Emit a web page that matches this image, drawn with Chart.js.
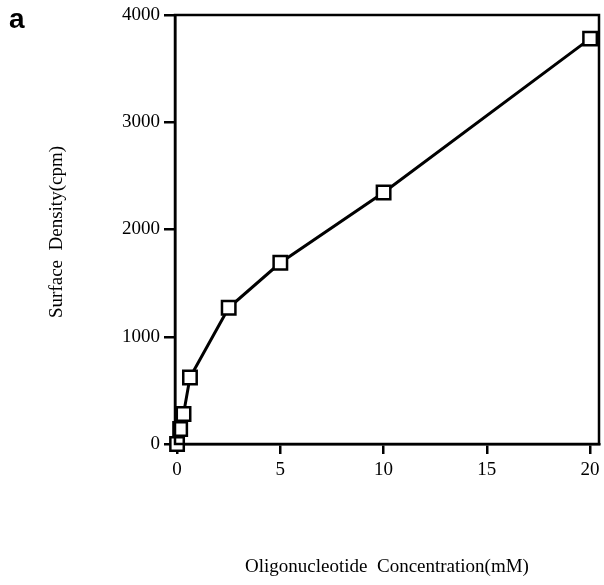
<!DOCTYPE html>
<html>
<head>
<meta charset="utf-8">
<script src="https://cdn.jsdelivr.net/npm/chart.js@4"></script>
<style>
html,body{margin:0;padding:0;background:#fff;}
#wrap{position:relative;width:604px;height:585px;}
</style>
</head>
<body>
<div id="wrap"><canvas id="c" width="604" height="585"></canvas></div>
<script>
const concentrations = [0, 0.15, 0.3125, 0.625, 2.5, 5, 10, 20];
const surfaceDensity = [0, 140, 280, 620, 1270, 1690, 2345, 3780];
const xTicks = [0, 5, 10, 15, 20];
const yTicks = [0, 1000, 2000, 3000, 4000];
const xTitle = 'Oligonucleotide  Concentration(mM)';
const yTitle = 'Surface  Density(cpm)';
const panelLabel = 'a';

const SERIF = '"Liberation Serif", "Times New Roman", serif';

const decor = {
  id: 'decor',
  afterDraw(chart) {
    const ctx = chart.ctx;
    const a = chart.chartArea;
    ctx.save();
    ctx.strokeStyle = '#000';
    ctx.lineWidth = 2.5;
    ctx.strokeRect(a.left, a.top, a.right - a.left, a.bottom - a.top);
    ctx.fillStyle = '#000';
    ctx.font = '19px ' + SERIF;
    ctx.textAlign = 'center';
    ctx.textBaseline = 'middle';
    ctx.fillText(xTitle, 387, 567);
    ctx.translate(57, 232);
    ctx.rotate(-Math.PI / 2);
    ctx.fillText(yTitle, 0, 0);
    ctx.restore();
    ctx.save();
    ctx.fillStyle = '#000';
    ctx.font = 'bold 28px "Liberation Sans", Arial, sans-serif';
    ctx.textAlign = 'left';
    ctx.textBaseline = 'alphabetic';
    ctx.fillText(panelLabel, 9, 28);
    ctx.restore();
  }
};

new Chart(document.getElementById('c'), {
  type: 'scatter',
  data: {
    datasets: [{
      data: concentrations.map((x, i) => ({x: x, y: surfaceDensity[i]})),
      showLine: true,
      borderColor: '#000',
      borderWidth: 3,
      pointStyle: 'rect',
      pointRadius: 9.5,
      pointHoverRadius: 9.5,
      pointBackgroundColor: '#fff',
      pointBorderColor: '#000',
      pointBorderWidth: 2.5,
      tension: 0,
      clip: false
    }]
  },
  options: {
    responsive: false,
    animation: false,
    devicePixelRatio: 1,
    layout: { autoPadding: false, padding: { top: 15, right: 5, left: 0, bottom: 0 } },
    plugins: { legend: { display: false }, tooltip: { enabled: false } },
    scales: {
      x: {
        type: 'linear',
        min: -0.1,
        max: 20.43,
        afterBuildTicks(s) { s.ticks = xTicks.map(v => ({value: v})); },
        afterFit(s) { s.height = 141; s.paddingLeft = 0; s.paddingRight = 0; },
        border: { display: true, color: '#000', width: 2.5 },
        grid: { display: true, drawOnChartArea: false, color: '#000', lineWidth: 2.5, tickLength: 10 },
        ticks: { color: '#000', font: { family: SERIF, size: 19 }, padding: 5, maxRotation: 0, autoSkip: false,
                 callback: v => String(v) }
      },
      y: {
        type: 'linear',
        min: 0,
        max: 4000,
        afterBuildTicks(s) { s.ticks = yTicks.map(v => ({value: v})); },
        afterFit(s) { s.width = 175; s.paddingTop = 0; s.paddingBottom = 0; },
        border: { display: true, color: '#000', width: 2.5 },
        grid: { display: true, drawOnChartArea: false, color: '#000', lineWidth: 2.5, tickLength: 11 },
        ticks: { color: '#000', font: { family: SERIF, size: 19 }, padding: 4, autoSkip: false,
                 callback: v => String(v) }
      }
    }
  },
  plugins: [decor]
});
</script>
</body>
</html>
